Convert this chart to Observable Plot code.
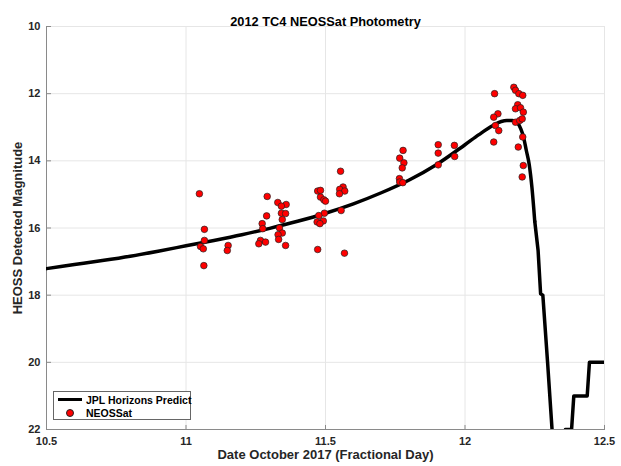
<!DOCTYPE html>
<html>
<head>
<meta charset="utf-8">
<script src="https://cdn.jsdelivr.net/npm/d3@7"></script>
<script src="https://cdn.jsdelivr.net/npm/@observablehq/plot@0.6"></script>
<style>
  html, body { margin: 0; padding: 0; background: #fff; }
  #wrap { position: relative; width: 621px; height: 466px; font-family: "Liberation Sans", Arial, sans-serif; }
  #legend { position: absolute; left: 53px; top: 391px; width: 138px; height: 29px; border: 1px solid #666; background: #fff; font-weight: bold; font-size: 10.5px; color: #000; white-space: nowrap; box-sizing: border-box; }
  #legend .row { position: absolute; left: 3px; height: 13px; display: flex; align-items: center; }
  #legend .sw { width: 26px; display: flex; justify-content: center; align-items: center; margin-right: 3px; }
</style>
</head>
<body>
<div id="wrap"></div>
<script>
const title = "2012 TC4 NEOSSat Photometry";
const xLabel = "Date October 2017 (Fractional Day)";
const yLabel = "HEOSS Detected Magnitude";
const seriesNames = ["JPL Horizons Predict", "NEOSSat"];
const xTicks = [10.5, 11, 11.5, 12, 12.5];
const yTicks = [10, 12, 14, 16, 18, 20, 22];

// JPL Horizons predicted magnitude (smooth approach, then steep fade and coarse steps)
const predictDay = [10.5, 10.6, 10.7, 10.8, 10.9, 11.0, 11.1, 11.2, 11.3, 11.4, 11.5, 11.6, 11.7, 11.8, 11.9, 12.0, 12.05, 12.1, 12.13, 12.15, 12.17, 12.185, 12.2, 12.21, 12.22, 12.23, 12.24, 12.25, 12.262, 12.271, 12.279, 12.296, 12.312, 12.33, 12.355, 12.36, 12.382, 12.39, 12.438, 12.446, 12.5];
const predictMag = [17.21, 17.09, 16.97, 16.84, 16.69, 16.53, 16.37, 16.2, 16.01, 15.8, 15.56, 15.28, 14.95, 14.57, 14.1, 13.52, 13.22, 12.95, 12.83, 12.8, 12.8, 12.85, 13.05, 13.3, 13.7, 14.1, 14.8, 15.8, 16.67, 17.96, 18.0, 20.0, 22.0, 24.0, 24.0, 22.0, 22.0, 21.0, 21.0, 20.0, 20.0];

// NEOSSat observations
const obsDay = [11.048, 11.066, 11.066, 11.052, 11.062, 11.151, 11.148, 11.064,
  11.291, 11.329, 11.359, 11.342, 11.342, 11.357, 11.289, 11.345, 11.273, 11.275, 11.335, 11.345, 11.330, 11.332, 11.267, 11.285, 11.261, 11.357,
  11.554, 11.563, 11.551, 11.569, 11.550, 11.472, 11.482, 11.482, 11.494, 11.500, 11.556, 11.496, 11.476, 11.492, 11.470, 11.480, 11.472, 11.568,
  11.778, 11.766, 11.781, 11.775, 11.765, 11.766, 11.777, 11.904, 11.904, 11.904, 11.962, 11.963,
  12.106, 12.175, 12.181, 12.193, 12.207, 12.189, 12.181, 12.199, 12.209, 12.118, 12.103, 12.181, 12.196, 12.205, 12.109, 12.121, 12.207, 12.103, 12.191, 12.209, 12.205];
const obsMag = [14.98, 16.04, 16.37, 16.55, 16.62, 16.52, 16.67, 17.12,
  15.06, 15.24, 15.30, 15.35, 15.56, 15.57, 15.64, 15.75, 15.87, 16.02, 16.00, 16.15, 16.20, 16.34, 16.37, 16.42, 16.47, 16.52,
  14.31, 14.78, 14.85, 14.90, 14.98, 14.90, 14.88, 15.08, 15.16, 15.20, 15.48, 15.56, 15.63, 15.79, 15.82, 15.87, 16.64, 16.75,
  13.69, 13.92, 14.06, 14.21, 14.53, 14.63, 14.65, 13.52, 13.77, 14.12, 13.54, 13.87,
  12.00, 11.81, 11.90, 12.00, 12.05, 12.33, 12.45, 12.42, 12.55, 12.60, 12.70, 12.85, 12.80, 12.75, 12.95, 13.10, 13.29, 13.44, 13.59, 14.14, 14.48];

const predict = predictDay.map((d, i) => ({day: d, mag: predictMag[i]}));
const smoothPart = predict.filter(d => d.day <= 12.25);
const tailPart = predict.filter(d => d.day >= 12.25);
const obs = obsDay.map((d, i) => ({day: d, mag: obsMag[i]}));

const fmt = d => String(d);

const chart = Plot.plot({
  width: 621,
  height: 466,
  marginLeft: 46,
  marginRight: 17,
  marginTop: 26,
  marginBottom: 37,
  style: {fontFamily: "'Liberation Sans', Arial, sans-serif", fontWeight: "bold", fontSize: "11px", color: "#262626", background: "#fff"},
  x: {type: "linear", domain: [10.5, 12.5]},
  y: {type: "linear", domain: [22, 10]},
  marks: [
    Plot.gridX(xTicks, {stroke: "#e6e6e6", strokeOpacity: 1}),
    Plot.gridY(yTicks, {stroke: "#e6e6e6", strokeOpacity: 1}),
    Plot.frame({anchor: "left", stroke: "#8a8a8a"}),
    Plot.frame({anchor: "bottom", stroke: "#8a8a8a"}),
    Plot.axisX(xTicks, {tickFormat: fmt, tickSize: 0, tickPadding: 8, label: null, fill: "#262626"}),
    Plot.axisY(yTicks, {tickFormat: fmt, tickSize: 0, tickPadding: 6, label: null, fill: "#262626"}),
    Plot.ruleX(xTicks, {x: d => d, y1: 22, y2: 21.88, stroke: "#8a8a8a"}),
    Plot.ruleY(yTicks, {y: d => d, x1: 10.5, x2: 10.518, stroke: "#8a8a8a"}),
    Plot.line(smoothPart, {x: "day", y: "mag", stroke: "black", strokeWidth: 3.5, curve: "monotone-x", clip: true, strokeLinejoin: "round"}),
    Plot.line(tailPart, {x: "day", y: "mag", stroke: "black", strokeWidth: 3.5, clip: true, strokeLinejoin: "round"}),
    Plot.dot(obs, {x: "day", y: "mag", r: 3.3, fill: "#ff0000", stroke: "#222", strokeWidth: 0.7}),
    Plot.text([title], {frameAnchor: "top", dy: -10, fontSize: 12.8, fontWeight: "bold", fill: "#000"}),
    Plot.text([xLabel], {frameAnchor: "bottom", dy: 29, fontSize: 13, fontWeight: "bold", fill: "#262626"}),
    Plot.text([yLabel], {frameAnchor: "left", textAnchor: "middle", dx: -29, rotate: -90, fontSize: 13, fontWeight: "bold", fill: "#262626"})
  ]
});

const wrap = document.getElementById("wrap");
wrap.appendChild(chart);

const legend = document.createElement("div");
legend.id = "legend";
legend.innerHTML =
  `<div class="row" style="top:1px"><span class="sw"><span style="display:inline-block;width:24px;height:3.5px;background:#000"></span></span>${seriesNames[0]}</div>` +
  `<div class="row" style="top:14px"><span class="sw"><span style="display:inline-block;width:6px;height:6px;border-radius:50%;background:#ff0000;border:0.5px solid #222"></span></span>${seriesNames[1]}</div>`;
wrap.appendChild(legend);
</script>
</body>
</html>
